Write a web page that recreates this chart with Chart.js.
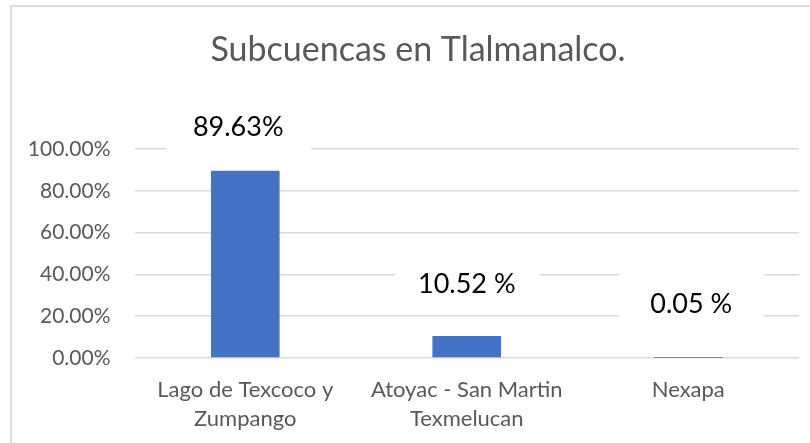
<!DOCTYPE html>
<html>
<head>
<meta charset="utf-8">
<script src="https://cdn.jsdelivr.net/npm/chart.js@4.4.0/dist/chart.umd.min.js"></script>
<style>
  html, body { margin: 0; padding: 0; background: #fff; }
  #wrap { position: relative; width: 810px; height: 443px; overflow: hidden; }
  #frame { position: absolute; left: 10px; top: 5px; width: 900px; height: 500px; border: 2px solid #dcdcdc; box-sizing: border-box; }
  canvas { position: absolute; left: 0; top: 0; }
</style>
</head>
<body>
<div id="wrap">
  <div id="frame"></div>
  <canvas id="chart" width="810" height="443"></canvas>
</div>
<script>
// data
const chartTitle = "Subcuencas en Tlalmanalco.";
const categories = [["Lago de Texcoco y", "Zumpango"], ["Atoyac - San Martin", "Texmelucan"], "Nexapa"];
const values = [0.8963, 0.1052, 0.0005];
const valueLabels = ["89.63%", "10.52 %", "0.05 %"];
const yTicks = [0, 0.2, 0.4, 0.6, 0.8, 1];

// where the (hand-moved) value labels sit, relative to the bar top
const labelShiftX = [-7, 0, 3];
const labelShiftY = [-44, -53, -55];

const font = "Lato, 'Open Sans', sans-serif";

// title + value labels with white boxes over the gridlines
const labelsPlugin = {
    id: "labels",
    afterDatasetsDraw(chart) {
        const ctx = chart.ctx;
        const bars = chart.getDatasetMeta(0).data;
        ctx.save();
        ctx.font = "27px " + font;
        ctx.textAlign = "center";
        ctx.textBaseline = "middle";
        bars.forEach((bar, i) => {
            const x = bar.x + labelShiftX[i];
            const y = bar.y + labelShiftY[i];
            ctx.fillStyle = "#ffffff";
            ctx.fillRect(x - 72, y - 29, 145, 58);
            ctx.fillStyle = "#000000";
            ctx.fillText(valueLabels[i], x, y + 1);
        });

        ctx.font = "34px " + font;
        ctx.fillStyle = "#595959";
        ctx.fillText(chartTitle, 418, 50);
        ctx.restore();
    }
};

const context = document.getElementById("chart").getContext("2d");
const chart = new Chart(context, {
    type: "bar",
    data: {
        labels: categories,
        datasets: [{
            data: values,
            backgroundColor: "#4472C4",
            barPercentage: 0.31,
            categoryPercentage: 1
        }]
    },
    options: {
        responsive: false,
        animation: false,
        layout: { padding: { left: 0, right: 11, top: 149, bottom: 0 } },
        plugins: {
            legend: { display: false },
            title: { display: false },
            tooltip: { enabled: false }
        },
        scales: {
            y: {
                min: 0,
                max: 1,
                afterBuildTicks: (s) => { s.ticks = yTicks.map(v => ({ value: v })); },
                afterFit: (s) => { s.width = 134.5; },
                grid: { color: "#d9d9d9", lineWidth: 1.5, drawTicks: false },
                border: { display: false },
                ticks: {
                    padding: 24,
                    color: "#595959",
                    font: { family: font, size: 21 },
                    callback: (v) => (v * 100).toFixed(2) + "%"
                }
            },
            x: {
                afterFit: (s) => { s.height = 85; },
                grid: { display: false, drawTicks: false },
                border: { display: false },
                ticks: {
                    padding: 17,
                    color: "#595959",
                    autoSkip: false,
                    maxRotation: 0,
                    font: { family: font, size: 22, lineHeight: 1.32 }
                }
            }
        }
    },
    plugins: [labelsPlugin]
});
</script>
</body>
</html>
